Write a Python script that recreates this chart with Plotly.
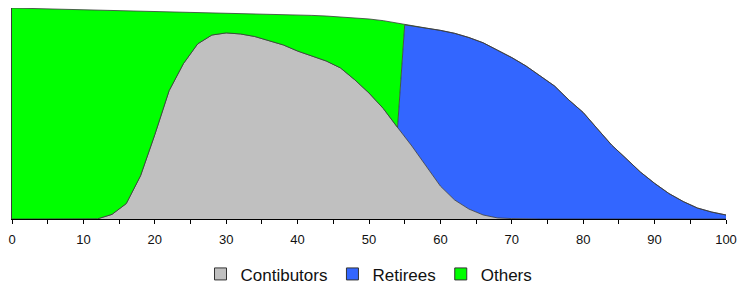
import plotly.graph_objects as go

ages = [0, 5, 10, 12, 14, 16, 18, 20, 22, 24, 26, 28, 30, 32, 34, 36, 38, 40, 42, 44,
        46, 48, 50, 52, 54, 55, 56, 58, 60, 62, 64, 66, 68, 70, 72, 74, 76, 78, 80,
        82, 84, 86, 88, 90, 92, 94, 96, 98, 100]

contributors = [0, 0, 0, 0.1, 2.2, 7.3, 20.5, 40, 60.8, 73.6, 83, 87.2, 88.2, 87.7, 86.5,
                84.6, 82.5, 79.6, 77.3, 74.9, 71.6, 66, 59.7, 52.4, 43.4, 39, 34.6, 25.1,
                15.6, 9, 4.7, 1.9, 0.5, 0.2, 0, 0, 0, 0, 0, 0, 0, 0, 0, 0, 0, 0, 0, 0, 0]

retirees = [0, 0, 0, 0, 0, 0, 0, 0, 0, 0, 0, 0, 0, 0, 0, 0, 0, 0, 0, 0, 0, 0, 0, 0, 0,
            53, 56.9, 65.4, 73.8, 79, 81.3, 81.6, 79.5, 76.3, 72.5, 67.8, 63, 56.4, 50.5,
            42.7, 35, 28.7, 22.3, 16.9, 12.1, 8.3, 5.2, 3.3, 1.9]

others = [100, 99.6, 99.2, 99.0, 96.8, 91.5, 78.2, 58.6, 37.6, 24.6, 15, 10.6, 9.4, 9.7,
          10.7, 12.4, 14.4, 17.1, 19.2, 21.3, 24.2, 29.3, 35.1, 41.6, 49.4,
          0, 0, 0, 0, 0, 0, 0, 0, 0, 0, 0, 0, 0, 0, 0, 0, 0, 0, 0, 0, 0, 0, 0, 0]

series_names = ["Contibutors", "Retirees", "Others"]
series_values = [contributors, retirees, others]
colors = ["#C0C0C0", "#3366FF", "#00FF00"]

fig = go.Figure()
for name, vals, col in zip(series_names, series_values, colors):
    fig.add_trace(go.Scatter(
        x=ages, y=vals, name=name, stackgroup="pop", mode="lines",
        line=dict(color="#3a3a3a", width=0.8), fillcolor=col,
        showlegend=False, hoverinfo="skip", cliponaxis=False))

# legend entries with square swatches
for name, col in zip(series_names, colors):
    fig.add_trace(go.Scatter(
        x=[None], y=[None], name=name, mode="markers",
        marker=dict(symbol="square", size=12, color=col,
                    line=dict(color="#333333", width=1)),
        showlegend=True))

fig.update_layout(
    width=740, height=287,
    margin=dict(l=12, r=14, t=8, b=68, autoexpand=False),
    paper_bgcolor="white", plot_bgcolor="white",
    font=dict(family="Arial, Liberation Sans, sans-serif", size=13, color="#111111"),
    showlegend=True,
    legend=dict(orientation="h", x=0.5, xanchor="center", yref="container",
                y=0.044, yanchor="middle", font=dict(size=17),
                itemwidth=30, traceorder="normal", tracegroupgap=0),
    xaxis=dict(range=[0, 100], dtick=10, tick0=0, showgrid=False, zeroline=False,
               showline=True, linecolor="black", linewidth=1, automargin=False,
               ticks="outside", ticklen=4, tickcolor="black", ticklabelstandoff=4,
               minor=dict(dtick=5, ticks="outside", ticklen=4, tickcolor="black"),
               tickfont=dict(size=13)),
    yaxis=dict(range=[0, 100], showgrid=False, zeroline=False, showticklabels=False,
               showline=True, linecolor="#3a3a3a", linewidth=1, ticks="",
               automargin=False),
)

fig.write_html("out.html",
               config={"displayModeBar": False},
               post_script="document.body.style.margin='0px';"
                           "document.body.style.overflow='hidden';")
